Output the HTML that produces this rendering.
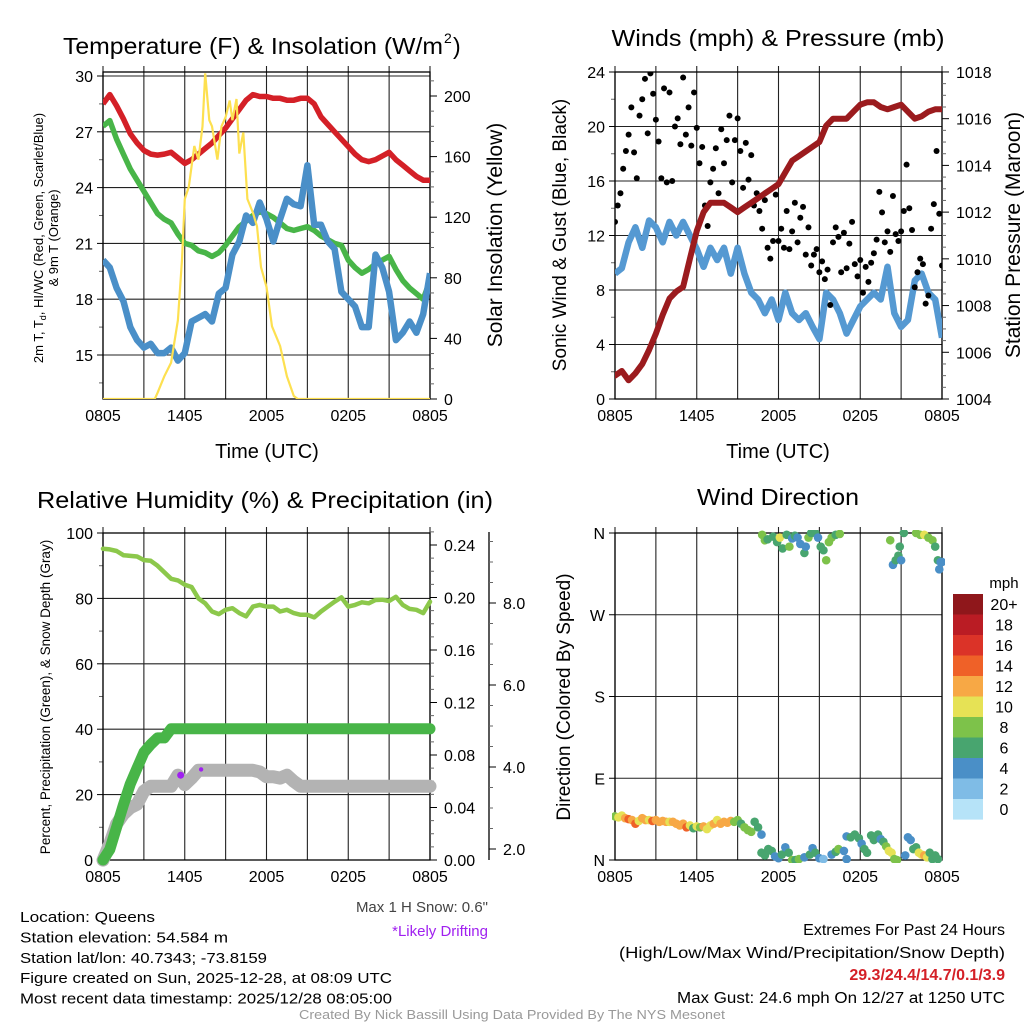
<!DOCTYPE html>
<html><head><meta charset="utf-8"><style>
html,body{margin:0;padding:0;background:#fff;}
svg{display:block;font-family:"Liberation Sans",sans-serif;}
</style></head><body>
<svg id="fig" width="1024" height="1024" viewBox="0 0 1024 1024" xmlns="http://www.w3.org/2000/svg">
<defs>
<clipPath id="c1"><rect x="103" y="72" width="327" height="327"/></clipPath>
<clipPath id="c2"><rect x="615" y="72" width="327" height="327"/></clipPath>
<clipPath id="c3"><rect x="103" y="533" width="327" height="327"/></clipPath>
<clipPath id="c4"><rect x="612" y="530" width="333" height="333"/></clipPath>
</defs>
</svg>
<script>
// ---------- data (half-hour steps, hours since 0805 UTC) ----------
const xTickLabels = ["0805","1405","2005","0205","0805"];
const tempRed = [28.5,29.0,28.4,27.7,26.9,26.4,26.0,25.8,25.75,25.8,25.9,25.6,25.3,25.5,25.8,26.1,26.4,26.8,27.2,27.7,28.2,28.7,29.0,28.9,28.9,28.8,28.8,28.7,28.7,28.8,28.8,28.5,27.8,27.4,27.0,26.6,26.2,25.8,25.5,25.4,25.5,25.7,25.9,25.5,25.2,24.9,24.6,24.4,24.4];
const tempGreen = [27.3,27.6,26.6,25.8,25.0,24.4,23.8,23.2,22.6,22.3,22.1,21.5,21.0,20.9,20.6,20.5,20.3,20.5,20.9,21.4,21.9,22.2,22.5,22.7,22.6,22.4,22.1,21.8,21.7,21.8,21.9,21.7,21.4,21.2,21.0,20.9,20.1,19.7,19.4,19.6,19.9,20.1,20.3,19.6,19.0,18.6,18.3,18.0,19.0];
const tempBlue = [20.1,19.7,18.6,17.9,16.5,15.8,15.4,15.6,15.1,15.1,15.4,14.7,15.1,16.8,17.0,17.2,16.8,18.3,18.6,20.4,21.1,22.5,22.1,23.2,22.3,21.1,22.3,23.4,23.1,23.0,25.2,22.0,22.0,21.1,20.7,18.4,18.0,17.6,16.5,16.5,20.4,19.7,18.4,15.8,16.2,16.8,16.2,17.2,19.4];
const solarTime = [0,3.8,4,4.5,5,5.5,5.8,6,6.3,6.7,7,7.3,7.5,7.8,8,8.4,8.7,9,9.3,9.5,9.8,10,10.3,10.6,11,11.3,11.6,12,12.4,13,13.5,14,14.3,24];
const solarVal = [0,0,4,15,24,52,92,132,140,167,158,180,215,184,180,158,180,186,197,184,198,162,176,132,123,114,87,74,48,35,15,2,0,0];
const windSpd = [9.2,9.6,11.5,12.6,11.1,13.1,12.6,11.5,13,12,13,12,11,9.7,11.1,10.2,11.1,9.2,11.1,9.2,7.8,7.3,6.3,7.3,5.8,7.8,6.3,5.8,6.3,5.3,4.4,7.8,7.3,6.3,4.8,5.8,6.8,7.3,7.8,7.3,9.7,6.3,5.3,5.8,8.7,9.2,7.8,7.3,4.5];
const pressure = [1005.0,1005.2,1004.8,1005.1,1005.5,1006.1,1006.8,1007.6,1008.3,1008.6,1008.8,1010.0,1011.2,1012.0,1012.4,1012.4,1012.4,1012.2,1012.0,1012.2,1012.4,1012.6,1012.8,1013.0,1013.2,1013.7,1014.2,1014.4,1014.6,1014.8,1015.0,1015.7,1016.0,1016.0,1016.0,1016.3,1016.6,1016.7,1016.7,1016.5,1016.4,1016.5,1016.6,1016.3,1016.0,1016.1,1016.3,1016.4,1016.4];
// gusts every 0.2 h
const gusts = [13,14.2,15.1,16.9,18.2,19.4,21.4,18.1,16.2,20.8,22.0,23.5,19.5,23.9,22.4,20.5,18.9,16.2,22.8,15.9,22.5,16.0,20.0,20.6,18.7,23.6,19.4,21.4,18.6,22.5,19.9,17.3,18.5,14.2,12.7,15.9,16.9,18.4,15.1,19.8,17.3,19.0,20.8,15.9,19.0,20.6,18.2,15.5,18.8,16.1,17.9,14.2,15.1,13.8,12.5,14.6,11.1,10.3,11.6,15.0,11.6,12.5,11.1,13.8,11.0,12.3,14.4,11.5,13.3,14.1,10.6,12.6,9.8,10.6,11.0,9.3,10.1,8.8,9.5,6.9,11.5,12.6,11.9,9.3,12.2,9.6,11.4,13.0,9.9,9.0,10.2,7.8,9.7,8.6,10.0,10.7,11.7,15.2,13.7,11.5,12.3,10.8,14.9,12.1,11.6,12.3,13.8,17.2,14.0,12.4,8.2,9.3,10.3,9.9,7.0,7.6,12.5,14.3,18.2,13.6,9.8];
const rh = [95.2,95,94.5,93.2,93,92.8,91.7,91.5,90,88,86,85.5,84.2,83.5,80,78.5,76,75.2,76.5,77,75.5,74.5,77.5,78,77.5,77.5,76,76.5,75.5,75,75,74.2,76,77.5,79,80.3,77.5,78,78.8,78.5,79.5,79.6,79.2,80.5,78,76.8,76.5,75.5,79];
const precip = [0,0.008,0.025,0.042,0.058,0.07,0.082,0.088,0.093,0.093,0.1,0.1,0.1,0.1,0.1,0.1,0.1,0.1,0.1,0.1,0.1,0.1,0.1,0.1,0.1,0.1,0.1,0.1,0.1,0.1,0.1,0.1,0.1,0.1,0.1,0.1,0.1,0.1,0.1,0.1,0.1,0.1,0.1,0.1,0.1,0.1,0.1,0.1,0.1];
const snow = [1.73,2.13,2.61,2.85,3.01,3.09,3.41,3.53,3.53,3.53,3.53,3.80,3.57,3.73,3.92,3.92,3.92,3.92,3.92,3.92,3.92,3.92,3.92,3.88,3.76,3.76,3.73,3.80,3.65,3.53,3.53,3.53,3.53,3.53,3.53,3.53,3.53,3.53,3.53,3.53,3.53,3.53,3.53,3.53,3.53,3.53,3.53,3.53,3.53];
const driftTime = [5.7,7.2];
const driftSnow = [3.80,3.94];
const dirTime = [0,0.25,0.5,0.75,1,1.25,1.5,1.75,2,2.25,2.5,2.75,3,3.25,3.5,3.75,4,4.25,4.5,4.75,5,5.25,5.5,5.75,6,6.25,6.5,6.75,7,7.25,7.5,7.75,8,8.25,8.5,8.75,9,9.25,9.5,9.75,10,10.25,10.5,10.75,10.75,11,11.25,11.5,11.75,12,12.25,12.5,12.75,13,13.25,13.5,10.8,11,11.2,11.6,11.9,12.1,12.3,12.6,12.8,13,13.2,13.4,13.6,13.9,14,14.2,14.4,14.7,14.9,15.1,15.3,15.5,15.7,15.9,16.2,16.5,13.9,14.3,14.5,14.7,15.0,15.3,15.9,16.2,16.4,16.8,17,17,17.3,17.6,17.9,18.1,18.3,18.5,18.8,19,19.3,19.5,19.7,19.9,20.1,20.3,20.5,20.7,20.2,20.4,20.6,20.8,20.9,21.0,21.2,21.3,21.5,21.7,21.9,22.1,22.3,22.5,22.7,22.9,23.1,23.3,23.5,23.7,22.1,22.4,22.7,23.0,23.3,23.5,23.7,23.9,23.8,24.0];
const dirDeg = [48,47,49,46,45,44,40,43,46,44,44,43,44,42,43,42,42,42,40,38,40,36,38,35,37,36,37,34,38,40,44,40,42,41,43,42,44,40,36,33,31,42,36,28,8,5,12,10,4,2,6,14,8,0,0,1,358,352,353,356,350,355,343,358,345,354,357,355,348,338,345,355,360,360,355,345,341,330,350,355,358,359,3,6,13,8,2,1,6,9,12,10,1,26,25,28,24,18,12,8,27,22,28,23,20,15,10,8,1,0,352,325,330,335,345,330,360,5,25,22,12,14,8,6,5,3,8,1,5,1,360,358,358,355,352,345,330,328,320,328];
const dirSpd = [8,10,11,12,14,12,15,11,13,12,11,14,12,12,13,12,11,13,12,12,13,14,11,7,10,9,12,11,10,13,11,12,12,13,12,8,8,7,8,9,8,6,6,4,6,6,7,6,5,4,6,4,6,8,7,8,8,8,7,6,6,10,6,7,8,5,7,4,5,6,4,8,7,6,4,6,6,8,8,8,7,8,4,6,5,6,4,3,4,7,8,4,4,4,6,6,6,5,7,6,6,6,6,5,7,8,10,10,8,8,8,4,6,6,6,4,6,4,4,4,7,6,10,10,12,10,6,6,6,7,8,8,10,8,8,6,6,4,4,4];
const cbarLabels = ["20+","18","16","14","12","10","8","6","4","2","0"];
const cbarColors = ["#8f171b","#ba1c24","#db3328","#ef6128","#f7a845","#e6e255","#7dc24a","#48a56f","#4a8fc7","#7fbce6","#b6e3f8"];
const dirLabels = ["N","E","S","W","N"];

// ---------- helpers ----------
const NS="http://www.w3.org/2000/svg";
const svg=document.getElementById('fig');
function mk(tag,attrs,parent){const e=document.createElementNS(NS,tag);for(const k in attrs)e.setAttribute(k,attrs[k]);(parent||svg).appendChild(e);return e;}
function txt(s,x,y,size,anchor,parent,extra){const e=mk('text',Object.assign({x:x,y:y,'font-size':size,'text-anchor':anchor||'middle',fill:'#000'},extra||{}),parent);e.textContent=s;return e;}
const W=327;
function xs(x0){return t=>x0+t*W/24;}
function poly(times,vals,fx,fy){return times.map((t,i)=>fx(t).toFixed(1)+','+fy(vals[i]).toFixed(1)).join(' ');}
const half=tempRed.map((_,i)=>i*0.5);

function frame(g,x0,y0,yMaj,yMin,fy,labels,gridH){
  for(let k=0;k<=8;k++){const x=x0+k*W/8;const l=mk('line',{x1:x,x2:x,y1:y0-6,y2:y0+W,stroke:'#222','stroke-width':1.1},g);
    }
  yMaj.forEach((v,i)=>{const y=fy(v);
    if(gridH){const l=mk('line',{x1:x0,x2:x0+W,y1:y,y2:y,stroke:'#222','stroke-width':1.1},g);}
    const tk=mk('line',{x1:x0-6,x2:x0,y1:y,y2:y,stroke:'#000','stroke-width':1},g);
    const t=txt(labels[i],x0-10,y+6,16,'end',g);});
  yMin.forEach(v=>{const y=fy(v);const tk=mk('line',{x1:x0-4,x2:x0,y1:y,y2:y,stroke:'#666','stroke-width':1},g);});
  const b=mk('rect',{x:x0,y:y0,width:W,height:W,fill:'none',stroke:'#000','stroke-width':1.3},g);
  xTickLabels.forEach((s,i)=>{const t=txt(s,x0+i*W/4,y0+W+22,16,'middle',g);});
}
function rightAxis(g,x,maj,mn,fy,labels,len){
  maj.forEach((v,i)=>{const y=fy(v);const tk=mk('line',{x1:x,x2:x+(len||7),y1:y,y2:y,stroke:'#000','stroke-width':1},g);
    const t=txt(labels[i],x+14,y+6,16,'start',g);});
  mn.forEach(v=>{const y=fy(v);const tk=mk('line',{x1:x,x2:x+4,y1:y,y2:y,stroke:'#666','stroke-width':1},g);});
}
function range(a,b,s){const r=[];for(let v=a;v<=b+1e-9;v+=s)r.push(+v.toFixed(4));return r;}
function rotText(s,x,y,size,g,name){const t=txt(s,0,0,size,'middle',g,{transform:`translate(${x},${y}) rotate(-90)`});return t;}

// ---------- Panel 1: temperature ----------
const g1=mk('g',{});
const x1=xs(103), yT=v=>76+(30-v)*18.6, yS=v=>399-v*1.515;
frame(g1,103,72,[15,18,21,24,27,30],range(13.5,30,1.5).filter(v=>v%3!==0),yT,["15","18","21","24","27","30"],true);
rightAxis(g1,430,[0,40,80,120,160,200],range(10,210,10).filter(v=>v%40!==0),yS,["0","40","80","120","160","200"]);
const c1=mk('g',{'clip-path':'url(#c1)'},g1);
let p=mk('polyline',{points:poly(half,tempRed,x1,yT),fill:'none',stroke:'#d42027','stroke-width':5.5,'stroke-linejoin':'round'},c1);
p=mk('polyline',{points:poly(half,tempGreen,x1,yT),fill:'none',stroke:'#48b548','stroke-width':5.5,'stroke-linejoin':'round'},c1);
p=mk('polyline',{points:poly(half,tempBlue,x1,yT),fill:'none',stroke:'#4a8fc8','stroke-width':6.5,'stroke-linejoin':'round'},c1);
p=mk('polyline',{points:poly(solarTime,solarVal,x1,yS),fill:'none',stroke:'#fde050','stroke-width':2.2},c1);
let t=txt('Temperature (F) & Insolation (W/m',63,54,23,'start',g1,{textLength:380,lengthAdjust:'spacingAndGlyphs'});
t=txt('2',444,43,14,'start',g1);
t=txt(')',453,54,23,'start',g1);
t=txt('Time (UTC)',267,458,20,'middle',g1);
const lt=mk('text',{x:0,y:0,'font-size':13,'text-anchor':'middle',transform:'translate(43,238) rotate(-90)'},g1);


lt.appendChild(document.createTextNode('2m T, T'));
const sub=mk('tspan',{'font-size':9,dy:3},lt);sub.textContent='d';


const rest=mk('tspan',{dy:-3},lt);rest.textContent=', HI/WC (Red, Green, Scarlet/Blue)';


rotText('& 9m T (Orange)',58,238,13,g1,'left-axis-title-line2');
rotText('Solar Insolation (Yellow)',502,235,21,g1,'right-axis-title');

// ---------- Panel 2: winds ----------
const g2=mk('g',{});
const x2=xs(615), yW=v=>399-v*13.625, yP=v=>399-(v-1004)*23.36;
frame(g2,615,72,[0,4,8,12,16,20,24],range(2,22,4),yW,["0","4","8","12","16","20","24"],true);
rightAxis(g2,942,[1004,1006,1008,1010,1012,1014,1016,1018],range(1004.5,1017.5,0.5).filter(v=>v%2!==0),yP,["1004","1006","1008","1010","1012","1014","1016","1018"]);
const c2=mk('g',{'clip-path':'url(#c2)'},g2);
p=mk('polyline',{points:poly(half,windSpd,x2,yW),fill:'none',stroke:'#5599d2','stroke-width':6.5,'stroke-linejoin':'round'},c2);
gusts.forEach((v,i)=>{const c=mk('circle',{cx:x2(i*0.2),cy:yW(v),r:3,fill:'#000'},c2);});
p=mk('polyline',{points:poly(half,pressure,x2,yP),fill:'none',stroke:'#9b1b1e','stroke-width':6,'stroke-linejoin':'round','stroke-linecap':'round'},c2);
t=txt('Winds (mph) & Pressure (mb)',778,46,23,'middle',g2,{textLength:333,lengthAdjust:'spacingAndGlyphs'});
t=txt('Time (UTC)',778,458,20,'middle',g2);
rotText('Sonic Wind & Gust (Blue, Black)',566,235,19,g2,'left-axis-title');
rotText('Station Pressure (Maroon)',1020,235,21,g2,'right-axis-title');

// ---------- Panel 3: RH & precip ----------
const g3=mk('g',{});
const x3=xs(103), yH=v=>860-v*3.27, yR=v=>860-v*1312.5, ySn=v=>849-(v-2)*41;
frame(g3,103,533,[0,20,40,60,80,100],[10,30,50,70,90],yH,["0","20","40","60","80","100"],true);
rightAxis(g3,430,[0,0.04,0.08,0.12,0.16,0.2,0.24],range(0.01,0.25,0.01).filter(v=>Math.round(v*100)%4!==0),yR,["0.00","0.04","0.08","0.12","0.16","0.20","0.24"]);
let al=mk('line',{x1:489,x2:489,y1:532,y2:860,stroke:'#000','stroke-width':1.3},g3);
[2,4,6,8].forEach(v=>{const y=ySn(v);const tk=mk('line',{x1:489,x2:496,y1:y,y2:y,stroke:'#000'},g3);
  const tt=txt(v.toFixed(1),503,y+6,16,'start',g3);});
range(2.5,9.5,1).concat([3,5,7,9]).forEach(v=>{const y=ySn(v);if(y<532)return;const tk=mk('line',{x1:489,x2:493,y1:y,y2:y,stroke:'#666'},g3);});
const c3=mk('g',{},g3);
p=mk('polyline',{points:poly(half,snow,x3,ySn),fill:'none',stroke:'#b3b3b3','stroke-width':13,'stroke-linejoin':'round','stroke-linecap':'round'},c3);
p=mk('polyline',{points:poly(half,precip,x3,yR),fill:'none',stroke:'#48b548','stroke-width':11,'stroke-linejoin':'round','stroke-linecap':'round'},c3);
driftTime.forEach((tm,i)=>{const c=mk('circle',{cx:x3(tm),cy:ySn(driftSnow[i]),r:i===0?3.5:2.2,fill:'#a020f0'},c3);});
p=mk('polyline',{points:poly(half,rh,x3,yH),fill:'none',stroke:'#8cc84b','stroke-width':4.5,'stroke-linejoin':'round','stroke-linecap':'round'},c3);
t=txt('Relative Humidity (%) & Precipitation (in)',265,508,23,'middle',g3,{textLength:456,lengthAdjust:'spacingAndGlyphs'});
rotText('Percent, Precipitation (Green), & Snow Depth (Gray)',50,697,13.5,g3,'left-axis-title');

// ---------- Panel 4: wind direction ----------
const g4=mk('g',{});
const x4=xs(615), yD=v=>860-v*W/360;
frame(g4,615,533,[0,90,180,270,360],[],yD,dirLabels,true);
const c4=mk('g',{'clip-path':'url(#c4)'},g4);
dirTime.forEach((tm,i)=>{const k=Math.min(10,Math.floor(dirSpd[i]/2));const c=mk('circle',{cx:x4(tm),cy:yD(dirDeg[i]),r:4.3,fill:cbarColors[10-k]},c4);});
t=txt('Wind Direction',778,505,23,'middle',g4,{textLength:162,lengthAdjust:'spacingAndGlyphs'});
rotText('Direction (Colored By Speed)',570,697,19,g4,'left-axis-title');
const cb=mk('g',{},g4);
cbarColors.forEach((col,i)=>{const r=mk('rect',{x:953,y:594+i*20.5,width:30,height:20.6,fill:col},cb);
  const tt=txt(cbarLabels[i],1004,594+i*20.5+16,16,'middle',cb);});
t=txt('mph',1004,588,15,'middle',cb);

// ---------- footer text ----------
const ft=mk('g',{});
const leftLines=["Location: Queens","Station elevation: 54.584 m","Station lat/lon: 40.7343; -73.8159","Figure created on Sun, 2025-12-28, at 08:09 UTC","Most recent data timestamp: 2025/12/28 08:05:00"];
const leftW=[135,208,247,372,372];
leftLines.forEach((s,i)=>{const e=txt(s,20,922+i*20.4,15,'start',ft,{textLength:leftW[i],lengthAdjust:'spacingAndGlyphs'});});
t=txt('Max 1 H Snow: 0.6"',488,912,15,'end',ft,{fill:'#444'});
t=txt('*Likely Drifting',488,936,15,'end',ft,{fill:'#a020f0'});
t=txt('Extremes For Past 24 Hours',1005,935,16,'end',ft);
t=txt('(High/Low/Max Wind/Precipitation/Snow Depth)',1005,958,16,'end',ft,{textLength:386,lengthAdjust:'spacingAndGlyphs'});
t=txt('29.3/24.4/14.7/0.1/3.9',1005,980,16,'end',ft,{fill:'#d42027','font-weight':'bold'});
t=txt('Max Gust: 24.6 mph On 12/27 at 1250 UTC',1005,1003,15.5,'end',ft,{textLength:328,lengthAdjust:'spacingAndGlyphs'});
t=txt('Created By Nick Bassill Using Data Provided By The NYS Mesonet',512,1019,12.5,'middle',ft,{fill:'#999',textLength:426,lengthAdjust:'spacingAndGlyphs'});
</script>
</body></html>
